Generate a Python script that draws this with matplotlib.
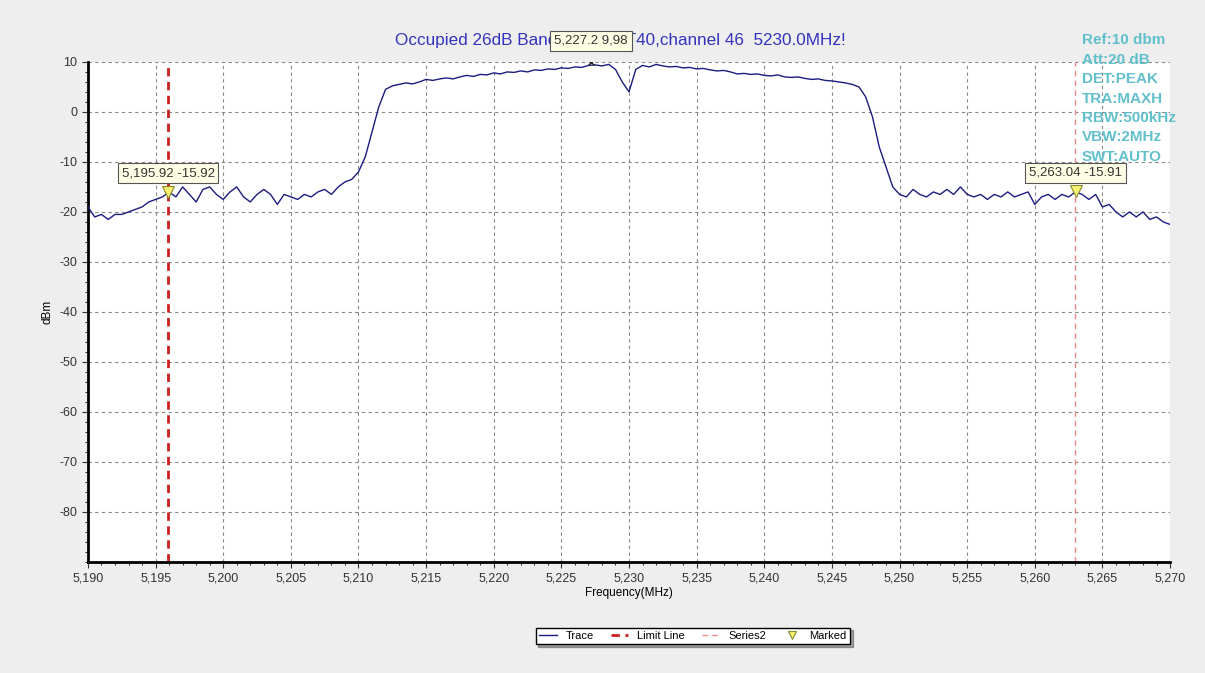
import numpy as np
import matplotlib.pyplot as plt
from matplotlib.ticker import FuncFormatter, MultipleLocator

plt.rcParams['font.family'] = ['Liberation Sans', 'DejaVu Sans']
plt.rcParams['axes.unicode_minus'] = False

freq = np.arange(5190.0, 5270.01, 0.5)
level = [
    -19.0, -21.0, -20.5, -21.5, -20.5, -20.5, -20.0, -19.5, -19.0, -18.0,
    -17.5, -17.0, -16.0, -17.0, -15.0, -16.5, -18.0, -15.5, -15.0, -16.5,
    -17.5, -16.0, -15.0, -17.0, -18.0, -16.5, -15.5, -16.5, -18.5, -16.5,
    -17.0, -17.5, -16.5, -17.0, -16.0, -15.5, -16.5, -15.0, -14.0, -13.5,
    -12.0, -9.0, -4.0, 1.0, 4.5, 5.2, 5.5, 5.8, 5.6, 6.0,
    6.5, 6.3, 6.6, 6.8, 6.6, 7.0, 7.3, 7.1, 7.5, 7.4,
    7.8, 7.6, 8.0, 7.9, 8.2, 8.0, 8.4, 8.3, 8.6, 8.5,
    8.8, 8.7, 9.0, 8.9, 9.3, 9.4, 9.2, 9.5, 8.5, 6.0,
    4.0, 8.5, 9.3, 9.0, 9.5, 9.2, 9.0, 9.1, 8.8, 8.9,
    8.6, 8.7, 8.4, 8.2, 8.3, 8.0, 7.6, 7.7, 7.5, 7.6,
    7.3, 7.2, 7.4, 7.0, 6.9, 7.0, 6.7, 6.5, 6.6, 6.3,
    6.2, 6.0, 5.8, 5.5, 5.0, 3.0, -1.0, -7.0, -11.0, -15.0,
    -16.5, -17.0, -15.5, -16.5, -17.0, -16.0, -16.5, -15.5, -16.5, -15.0,
    -16.5, -17.0, -16.5, -17.5, -16.5, -17.0, -16.0, -17.0, -16.5, -16.0,
    -18.5, -17.0, -16.5, -17.5, -16.5, -17.0, -16.0, -16.5, -17.5, -16.5,
    -19.0, -18.5, -20.0, -21.0, -20.0, -21.0, -20.0, -21.5, -21.0, -22.0,
    -22.5,
]

# markers
mark_f = [5195.92, 5263.04]
mark_v = [-15.92, -15.91]
peak_f, peak_v, peak_txt = 5227.2, 9.98, "5,227.2 9,98"
limit_f = 5195.92
series2_f = 5263.0

settings = ["Ref:10 dbm", "Att:20 dB", "DET:PEAK", "TRA:MAXH",
            "RBW:500kHz", "VBW:2MHz", "SWT:AUTO"]

fig = plt.figure(figsize=(12.05, 6.73), dpi=100, facecolor='#eeeeee')
ax = fig.add_axes([0.073, 0.165, 0.898, 0.743])
ax.set_facecolor('white')

ax.plot(freq, level, color='#1c1c80', lw=1.0, label='Trace', zorder=3)
ax.axvline(limit_f, color='#cc1f1f', lw=2, ls=(0, (3, 2)), label='Limit Line', zorder=2)
ax.axvline(series2_f, color='#f08a8a', lw=1, ls=(0, (4, 3)), label='Series2', zorder=2)
ax.plot(mark_f, mark_v, 'v', ms=8, mfc='#f5f070', mec='#8a8a30', mew=0.8,
        ls='none', label='Marked', zorder=4)
ax.plot([peak_f], [peak_v], 'x', ms=5, color='#222222', mew=1, zorder=4)

# title drawn inside the axes so the peak box can sit on top of it
ax.text(0.515, 0.94, "Occupied 26dB Bandwidth,VHT40,channel 46  5230.0MHz!",
        transform=fig.transFigure, fontsize=12.3, color='#3333bb',
        ha='center', va='center', clip_on=False, zorder=1)

box = dict(boxstyle='square,pad=0.3', fc='#ffffe6', ec='#555555', lw=0.8)
for f, v in zip(mark_f, mark_v):
    ax.annotate(f"{f:,.2f} {v:.2f}", (f, v), xytext=(0, 9), textcoords='offset points',
                ha='center', va='bottom', fontsize=9.5, color='#333333', bbox=box,
                annotation_clip=False, zorder=6)
ax.annotate(peak_txt, (peak_f, peak_v), xytext=(0, 11), textcoords='offset points',
            ha='center', va='bottom', fontsize=9.5, color='#333333', bbox=box,
            annotation_clip=False, zorder=6)

ax.set_xlim(5190, 5270)
ax.set_ylim(-90, 10)
ax.xaxis.set_major_locator(MultipleLocator(5))
ax.xaxis.set_minor_locator(MultipleLocator(1))
ax.set_yticks(range(-80, 11, 10))
ax.yaxis.set_minor_locator(MultipleLocator(2))
ax.xaxis.set_major_formatter(FuncFormatter(lambda x, p: f"{x:,.0f}"))
ax.tick_params(labelsize=9, colors='#333333', length=4)
ax.tick_params(which='minor', length=2)
ax.grid(True, which='major', color='#888888', ls=(0, (3, 3)), lw=0.8)
for s in ['top', 'right']:
    ax.spines[s].set_visible(False)
for s in ['left', 'bottom']:
    ax.spines[s].set_linewidth(2)

ax.set_xlabel("Frequency(MHz)", fontsize=8.5, labelpad=2)
ax.set_ylabel("dBm", fontsize=8.5)

for i, t in enumerate(settings):
    fig.text(0.898, 0.94 - i * 0.0288, t, fontsize=11, fontweight='bold',
             color='#62c0cc', va='center')

fig.legend(loc='center', bbox_to_anchor=(0.575, 0.055), ncol=4, fontsize=8,
           fancybox=False, shadow=True, framealpha=1, edgecolor='black',
           handlelength=1.6, columnspacing=1.5, borderpad=0.3, markerscale=0.7)

fig.savefig('out.png', dpi=100, facecolor=fig.get_facecolor())
